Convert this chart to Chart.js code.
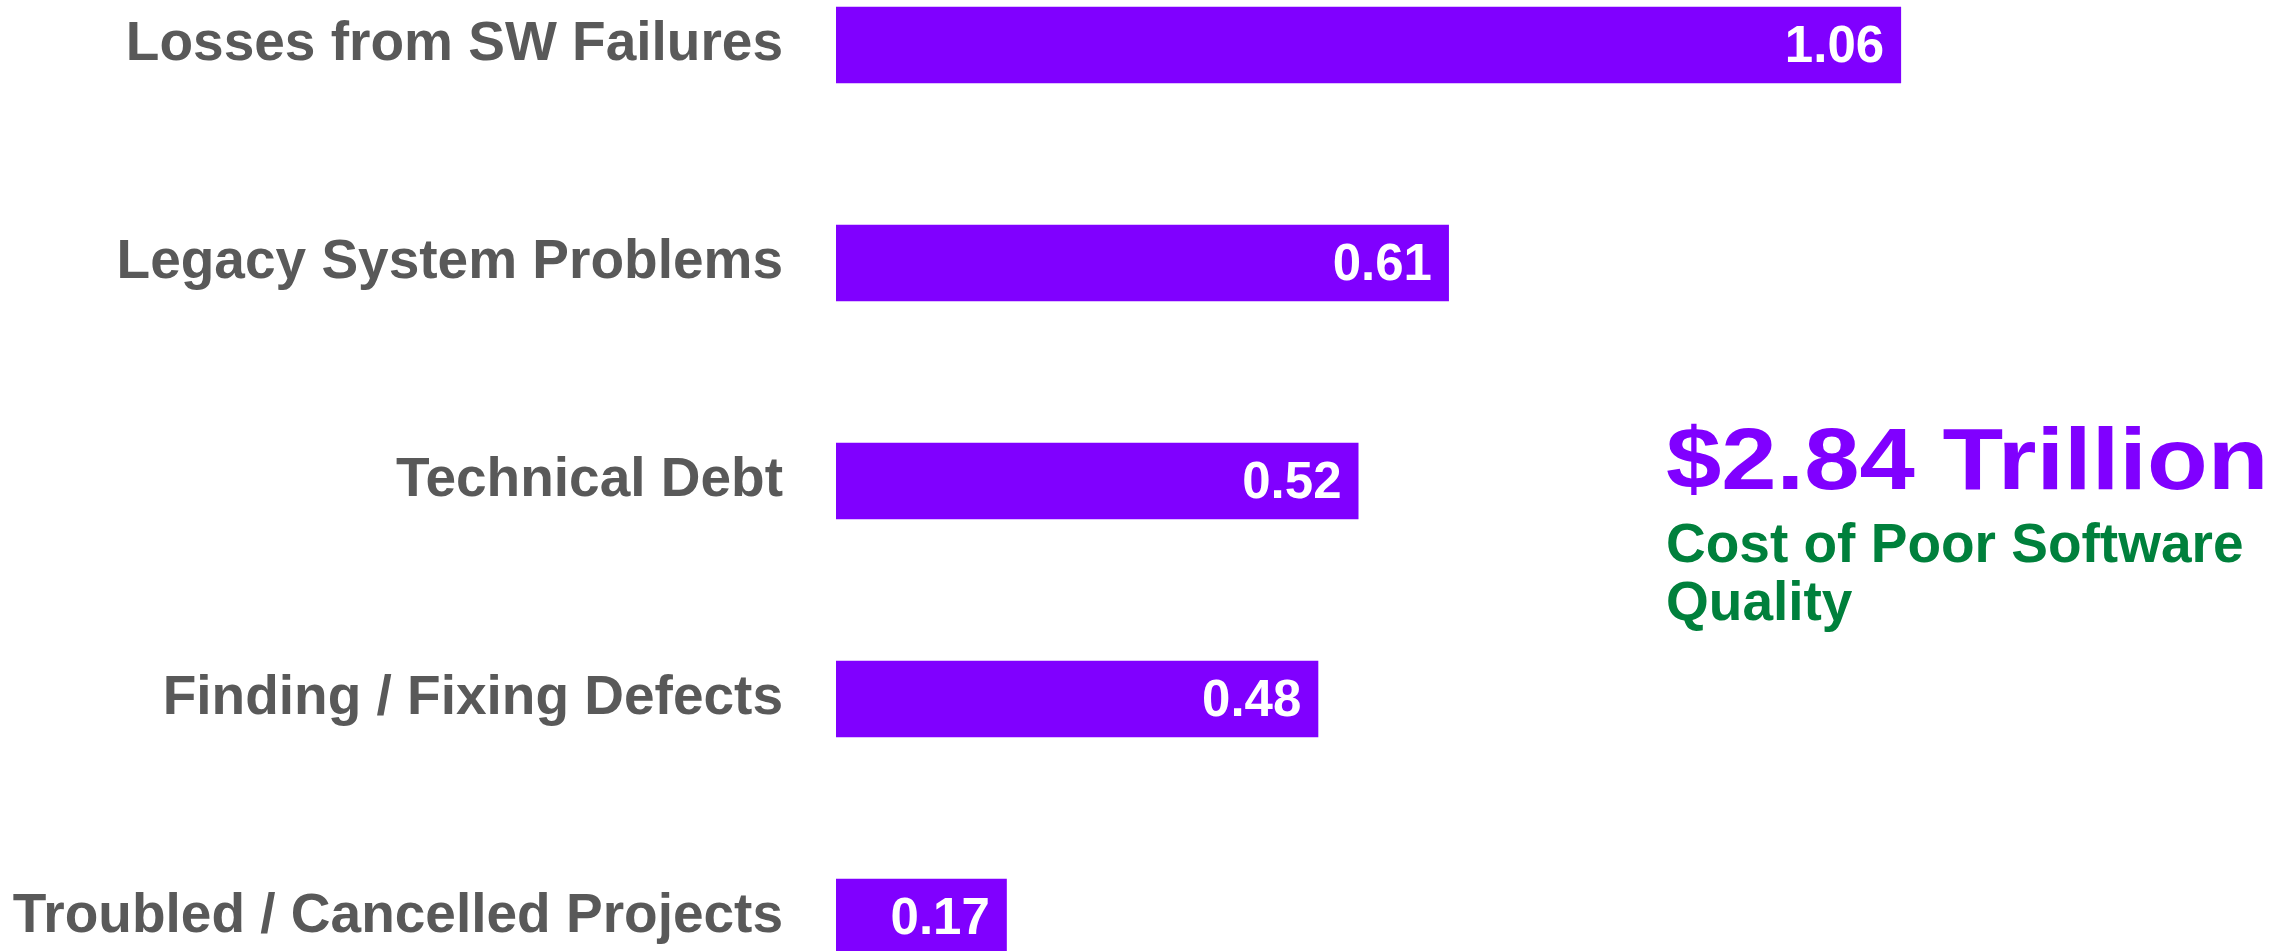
<!DOCTYPE html>
<html>
<head>
<meta charset="utf-8">
<script src="https://cdn.jsdelivr.net/npm/chart.js@4/dist/chart.umd.min.js"></script>
<style>
  html, body { margin: 0; padding: 0; background: #fff; overflow: hidden; }
  body { width: 2295px; height: 951px; position: relative; font-family: "Liberation Sans", Arial, sans-serif; }
  #chart { position: absolute; left: 0; top: -64px; width: 2295px; height: 1090px; }
  .total { position: absolute; left: 1666px; top: 415px; font-size: 88px; line-height: 88px; font-weight: bold; color: #8000ff; white-space: nowrap; transform: scaleX(1.13); transform-origin: 0 0; }
  .sub { position: absolute; left: 1666px; top: 514px; width: 620px; font-size: 55px; line-height: 58px; font-weight: bold; color: #00803c; }
</style>
</head>
<body>
<canvas id="chart" width="2295" height="1090"></canvas>
<div class="total" id="total"></div>
<div class="sub" id="sub"></div>
<script>
// valeurs en trillions de dollars
const categories = [
  'Losses from SW Failures',
  'Legacy System Problems',
  'Technical Debt',
  'Finding / Fixing Defects',
  'Troubled / Cancelled Projects',
];
const values = [1.06, 0.61, 0.52, 0.48, 0.17];
const totalText = '$2.84 Trillion';
const subText = 'Cost of Poor Software Quality';

document.getElementById('total').textContent = totalText;
document.getElementById('sub').textContent = subText;

// Étiquettes de valeur à l'intérieur du bout de chaque barre
const valueLabels = {
  id: 'valueLabels',
  afterDatasetsDraw(chart) {
    const ctx = chart.ctx;
    const meta = chart.getDatasetMeta(0);
    ctx.save();
    ctx.fillStyle = '#ffffff';
    ctx.font = 'bold 51px "Liberation Sans", Arial, sans-serif';
    ctx.textAlign = 'right';
    ctx.textBaseline = 'middle';
    meta.data.forEach((bar, i) => {
      ctx.fillText(values[i].toFixed(2), bar.x - 17, bar.y + 3);
    });
    ctx.restore();
  },
};

const ctx = document.getElementById('chart').getContext('2d');
new Chart(ctx, {
  type: 'bar',
  data: {
    labels: categories,
    datasets: [
      {
        data: values,
        backgroundColor: '#8000ff',
        barPercentage: 0.35,
        categoryPercentage: 1,
      },
    ],
  },
  options: {
    indexAxis: 'y',
    responsive: false,
    devicePixelRatio: 1,
    animation: false,
    layout: { padding: 0 },
    plugins: {
      legend: { display: false },
      tooltip: { enabled: false },
    },
    scales: {
      x: {
        display: false,
        min: 0,
        max: 1.452,
      },
      y: {
        border: { display: false },
        grid: { display: false, drawTicks: false },
        ticks: {
          padding: 53,
          color: '#595959',
          font: { family: '"Liberation Sans", Arial, sans-serif', size: 55, weight: 'bold' },
        },
        afterFit(scale) {
          // largeur fixe de l'axe et pas de marge verticale ajoutée
          scale.width = 836;
          scale.paddingTop = 0;
          scale.paddingBottom = 0;
        },
      },
    },
  },
  plugins: [valueLabels],
});
</script>
</body>
</html>
